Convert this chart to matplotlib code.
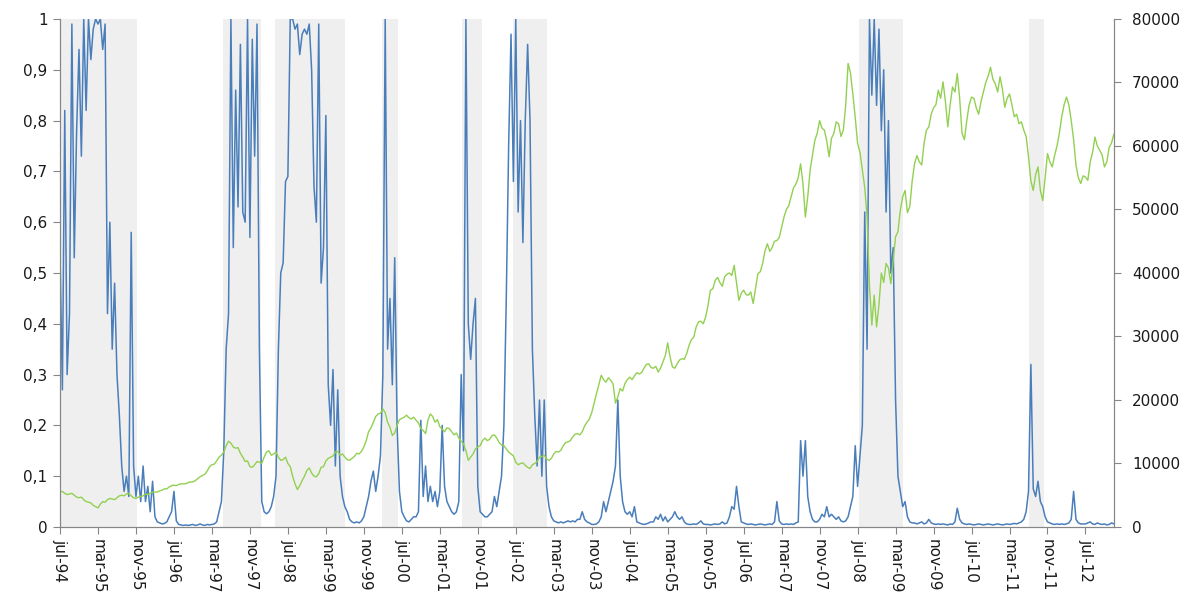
import numpy as np
import matplotlib.pyplot as plt

# Probabilidad de régimen (quincenal, desde jul-94)
probabilidad = [
    0.54, 0.27, 0.82, 0.30, 0.42, 0.99, 0.53, 0.78, 0.94, 0.73, 1.00, 0.82,
    1.00, 0.92, 0.98, 1.00, 0.99, 1.00, 0.94, 0.99, 0.42, 0.60, 0.35, 0.48,
    0.30, 0.22, 0.12, 0.07, 0.10, 0.06, 0.58, 0.12, 0.06, 0.10, 0.05, 0.12,
    0.05, 0.08, 0.03, 0.09, 0.02, 0.01, 0.008, 0.006, 0.007, 0.01, 0.02, 0.03,
    0.07, 0.012, 0.005, 0.004, 0.003, 0.004, 0.003, 0.004, 0.005, 0.003, 0.004, 0.006,
    0.004, 0.003, 0.005, 0.004, 0.005, 0.006, 0.01, 0.03, 0.05, 0.15, 0.35, 0.42,
    1.00, 0.55, 0.86, 0.63, 0.95, 0.62, 0.60, 1.00, 0.57, 0.96, 0.73, 0.99,
    0.35, 0.05, 0.03, 0.026, 0.03, 0.04, 0.06, 0.10, 0.35, 0.50, 0.52, 0.68,
    0.69, 1.00, 1.00, 0.98, 0.99, 0.93, 0.97, 0.98, 0.97, 0.99, 0.90, 0.67,
    0.60, 0.99, 0.48, 0.55, 0.81, 0.28, 0.20, 0.31, 0.12, 0.27, 0.10, 0.06,
    0.04, 0.03, 0.015, 0.01, 0.008, 0.01, 0.008, 0.012, 0.02, 0.04, 0.06, 0.09,
    0.11, 0.07, 0.10, 0.14, 0.30, 1.00, 0.35, 0.45, 0.28, 0.53, 0.20, 0.07,
    0.03, 0.02, 0.012, 0.01, 0.015, 0.02, 0.02, 0.03, 0.21, 0.06, 0.12, 0.05,
    0.08, 0.05, 0.07, 0.04, 0.07, 0.20, 0.08, 0.05, 0.04, 0.03, 0.025, 0.03,
    0.05, 0.30, 0.15, 1.00, 0.40, 0.33, 0.40, 0.45, 0.08, 0.03, 0.025, 0.02,
    0.02, 0.025, 0.03, 0.06, 0.04, 0.07, 0.10, 0.20, 0.45, 0.75, 0.97, 0.68,
    1.00, 0.62, 0.80, 0.56, 0.80, 0.95, 0.80, 0.35, 0.22, 0.12, 0.25, 0.10,
    0.25, 0.08, 0.04, 0.02, 0.012, 0.01, 0.008, 0.01, 0.008, 0.01, 0.012, 0.01,
    0.012, 0.01, 0.015, 0.015, 0.03, 0.015, 0.01, 0.008, 0.005, 0.005, 0.006, 0.01,
    0.02, 0.05, 0.03, 0.05, 0.07, 0.09, 0.12, 0.25, 0.10, 0.05, 0.03, 0.025,
    0.03, 0.02, 0.04, 0.01, 0.008, 0.006, 0.005, 0.006, 0.008, 0.01, 0.01, 0.02,
    0.015, 0.025, 0.012, 0.02, 0.01, 0.015, 0.02, 0.03, 0.02, 0.015, 0.02, 0.01,
    0.006, 0.005, 0.005, 0.006, 0.005, 0.008, 0.012, 0.006, 0.005, 0.005, 0.004, 0.005,
    0.006, 0.005, 0.006, 0.01, 0.006, 0.008, 0.02, 0.04, 0.035, 0.08, 0.04, 0.01,
    0.008, 0.006, 0.005, 0.006, 0.005, 0.004, 0.005, 0.006, 0.005, 0.004, 0.005, 0.006,
    0.005, 0.01, 0.05, 0.012, 0.006, 0.005, 0.006, 0.005, 0.006, 0.005, 0.008, 0.01,
    0.17, 0.10, 0.17, 0.06, 0.03, 0.015, 0.01, 0.01, 0.015, 0.025, 0.02, 0.04,
    0.02, 0.025, 0.02, 0.015, 0.02, 0.012, 0.01, 0.012, 0.02, 0.04, 0.06, 0.16,
    0.08, 0.14, 0.20, 0.62, 0.35, 1.00, 0.85, 1.00, 0.83, 0.98, 0.78, 0.90,
    0.62, 0.80, 0.50, 0.55, 0.25, 0.10, 0.07, 0.04, 0.05, 0.02, 0.01, 0.008,
    0.008, 0.006, 0.008, 0.01, 0.006, 0.008, 0.015, 0.008, 0.006, 0.005, 0.006, 0.005,
    0.006, 0.005, 0.004, 0.006, 0.005, 0.01, 0.037, 0.015, 0.008, 0.006, 0.005, 0.006,
    0.005, 0.004, 0.005, 0.006, 0.005, 0.004, 0.005, 0.006, 0.005, 0.004, 0.005, 0.006,
    0.005, 0.004, 0.005, 0.006, 0.005, 0.006, 0.007, 0.006, 0.008, 0.01, 0.015, 0.03,
    0.07, 0.32, 0.075, 0.06, 0.09, 0.05, 0.04, 0.02, 0.01, 0.008, 0.006, 0.005,
    0.006, 0.005, 0.006, 0.005, 0.006, 0.008, 0.015, 0.07, 0.015, 0.008, 0.006, 0.006,
    0.006, 0.008, 0.01, 0.006, 0.005, 0.008, 0.006, 0.005, 0.006, 0.004, 0.005, 0.008,
    0.006,
]

# Índice bursátil en miles de puntos: cierre de cada mes y lectura a mitad de mes
indice_miles = [
    5.5, 5.3, 5.2, 5.0, 4.6, 4.3, 3.9, 3.4, 3.0, 4.0, 4.3, 4.4,
    4.6, 5.0, 5.2, 4.9, 4.5, 4.8, 5.2, 5.3, 5.5, 5.7, 6.0, 6.3,
    6.6, 6.7, 6.8, 7.0, 7.1, 7.6, 8.1, 8.8, 9.8, 10.4, 11.3, 12.8,
    13.2, 12.4, 11.6, 10.3, 9.5, 9.8, 10.2, 11.0, 12.0, 11.5, 11.0, 10.6,
    10.0, 8.0, 5.9, 7.3, 8.9, 8.5, 7.9, 9.4, 10.4, 11.0, 11.8, 11.3,
    11.0, 10.5, 11.1, 11.5, 12.6, 15.0, 16.5, 17.8, 18.6, 16.5, 14.4, 16.0,
    17.1, 17.6, 17.0, 16.8, 15.5, 14.7, 17.8, 16.5, 15.8, 15.0, 15.5, 14.5,
    14.0, 13.1, 10.5, 11.5, 12.6, 13.6, 13.6, 14.4, 14.0, 12.9, 12.3, 11.5,
    10.2, 10.0, 9.7, 9.2, 10.0, 11.0, 11.3, 10.5, 11.5, 11.8, 12.8, 13.4,
    14.2, 14.7, 15.0, 16.5, 18.0, 21.0, 23.9, 22.8, 23.1, 19.5, 21.8, 22.6,
    23.6, 23.8, 24.1, 25.0, 25.7, 25.0, 24.4, 26.0, 29.0, 25.2, 25.7, 26.5,
    27.3, 29.5, 31.5, 32.4, 33.1, 37.3, 38.8, 38.5, 39.4, 40.0, 41.2, 35.7,
    37.3, 36.5, 35.2, 39.9, 41.5, 44.6, 44.0, 45.1, 47.2, 50.0, 52.0, 54.0,
    57.2, 48.8, 56.2, 60.9, 64.0, 62.5, 58.3, 62.0, 63.5, 62.5, 73.0, 68.2,
    60.4, 56.2, 48.8, 31.8, 31.5, 40.0, 41.5, 38.3, 45.7, 49.9, 53.0, 50.5,
    57.2, 57.5, 60.4, 63.0, 66.0, 68.8, 70.1, 63.0, 69.3, 71.4, 62.0, 64.0,
    67.7, 66.0, 67.0, 70.0, 72.4, 69.8, 70.9, 66.1, 68.2, 64.6, 63.5, 62.5,
    58.3, 53.0, 56.7, 51.4, 58.8, 56.7, 60.0, 64.6, 67.7, 64.0, 57.0, 54.1,
    55.1, 57.5, 61.4, 59.3, 56.7, 59.8, 61.9,
]
indice_medio = [
    5.6, 5.1, 5.3, 4.7, 4.7, 4.0, 3.8, 3.2, 3.6, 3.9, 4.5, 4.3,
    4.9, 4.9, 5.3, 4.6, 4.7, 4.9, 5.1, 5.5, 5.5, 5.8, 6.0, 6.5,
    6.5, 6.8, 6.8, 7.1, 7.3, 7.9, 8.3, 9.5, 9.9, 11.0, 11.8, 13.5,
    12.6, 12.5, 11.0, 10.4, 9.4, 10.3, 10.0, 11.8, 11.3, 11.8, 10.5, 11.0,
    9.5, 6.8, 6.5, 8.0, 9.3, 8.0, 8.4, 9.5, 10.8, 11.2, 11.9, 11.5,
    10.6, 10.8, 11.6, 11.9, 13.6, 15.6, 17.4, 17.9, 18.0, 15.7, 14.8, 16.9,
    17.3, 17.2, 17.3, 16.4, 15.2, 16.8, 17.4, 16.9, 15.4, 15.6, 15.0, 14.8,
    13.5, 12.0, 11.0, 12.3, 12.8, 14.0, 13.8, 14.5, 13.3, 12.8, 11.8, 11.2,
    9.8, 10.1, 9.4, 9.8, 10.3, 11.1, 10.7, 10.8, 11.9, 12.1, 13.3, 13.6,
    14.6, 14.5, 15.9, 17.0, 19.5, 22.4, 23.2, 23.5, 22.5, 20.5, 21.4, 23.2,
    23.2, 24.3, 24.3, 25.6, 25.1, 25.3, 25.0, 27.0, 26.8, 25.0, 26.3, 26.4,
    28.6, 29.9, 32.3, 32.0, 34.9, 37.5, 39.3, 37.9, 39.8, 39.6, 38.5, 36.8,
    36.6, 37.0, 37.5, 40.2, 43.5, 43.4, 45.0, 45.6, 48.8, 50.6, 53.4, 55.0,
    54.0, 52.0, 58.5, 62.0, 62.8, 60.8, 61.2, 63.8, 61.5, 66.5, 71.5, 64.5,
    59.0, 53.5, 38.0, 36.5, 35.0, 38.5, 40.8, 42.0, 46.5, 52.0, 49.5, 54.5,
    58.5, 57.0, 62.5, 65.0, 66.5, 67.5, 67.0, 66.5, 68.5, 67.5, 61.0, 66.5,
    67.5, 65.0, 68.5, 71.0, 70.5, 68.5, 69.0, 67.5, 66.5, 65.0, 63.8, 61.5,
    54.5, 55.5, 53.0, 55.0, 57.5, 58.5, 62.0, 66.5, 66.5, 61.0, 55.0, 55.3,
    54.6, 59.0, 60.0, 58.6, 57.5, 60.5,
]

# periodos sombreados (inicio, fin) en meses desde jul-94
periodos = [(0.0, 16.3), (34.3, 42.3), (45.3, 60.0), (67.8, 71.2),
            (84.6, 88.8), (95.4, 102.5), (168.2, 177.5), (204.0, 207.2)]

etiquetas_x = ['jul-94', 'mar-95', 'nov-95', 'jul-96', 'mar-97', 'nov-97', 'jul-98',
               'mar-99', 'nov-99', 'jul-00', 'mar-01', 'nov-01', 'jul-02', 'mar-03',
               'nov-03', 'jul-04', 'mar-05', 'nov-05', 'jul-06', 'mar-07', 'nov-07',
               'jul-08', 'mar-09', 'nov-09', 'jul-10', 'mar-11', 'nov-11', 'jul-12']
etiquetas_izq = ['0', '0,1', '0,2', '0,3', '0,4', '0,5', '0,6', '0,7', '0,8', '0,9', '1']

meses_prob = np.arange(len(probabilidad)) / 2.0

# intercalar cierres y lecturas intermedias
indice = np.empty(len(indice_miles) + len(indice_medio))
indice[0::2] = indice_miles
indice[1::2] = indice_medio
meses_ind = np.arange(len(indice)) / 2.0

gris = '#868686'

fig = plt.figure(figsize=(12, 6.1), dpi=100)
ax = fig.add_axes([0.05, 0.1361, 0.8783, 0.8328])

for ini, fin in periodos:
    ax.axvspan(ini, fin, color='#EFEFEF', lw=0, zorder=0)

ax.plot(meses_prob, probabilidad, color='#4A7EBB', lw=1.1, zorder=2)
ax.set_xlim(0, 222)
ax.set_ylim(0, 1)
ax.set_yticks(np.linspace(0, 1, 11))
ax.set_yticklabels(etiquetas_izq)
ax.set_xticks(np.arange(len(etiquetas_x)) * 8)
ax.set_xticklabels(etiquetas_x, rotation=-90, ha='center', va='top')

ax2 = ax.twinx()
ax2.plot(meses_ind, indice * 1000, color='#92D050', lw=1.0)
ax2.set_ylim(0, 80000)
ax2.set_yticks(np.arange(0, 80001, 10000))
ax2.set_yticklabels([str(v) for v in range(0, 80001, 10000)])

for a in (ax, ax2):
    a.spines['top'].set_visible(False)
    for lado in ('left', 'right', 'bottom'):
        a.spines[lado].set_color(gris)
    a.tick_params(direction='out', length=5, color=gris, labelsize=11,
                  labelcolor='#1a1a1a', pad=4)
ax2.tick_params(axis='y', pad=8)

fig.savefig('out.png', dpi=100)
